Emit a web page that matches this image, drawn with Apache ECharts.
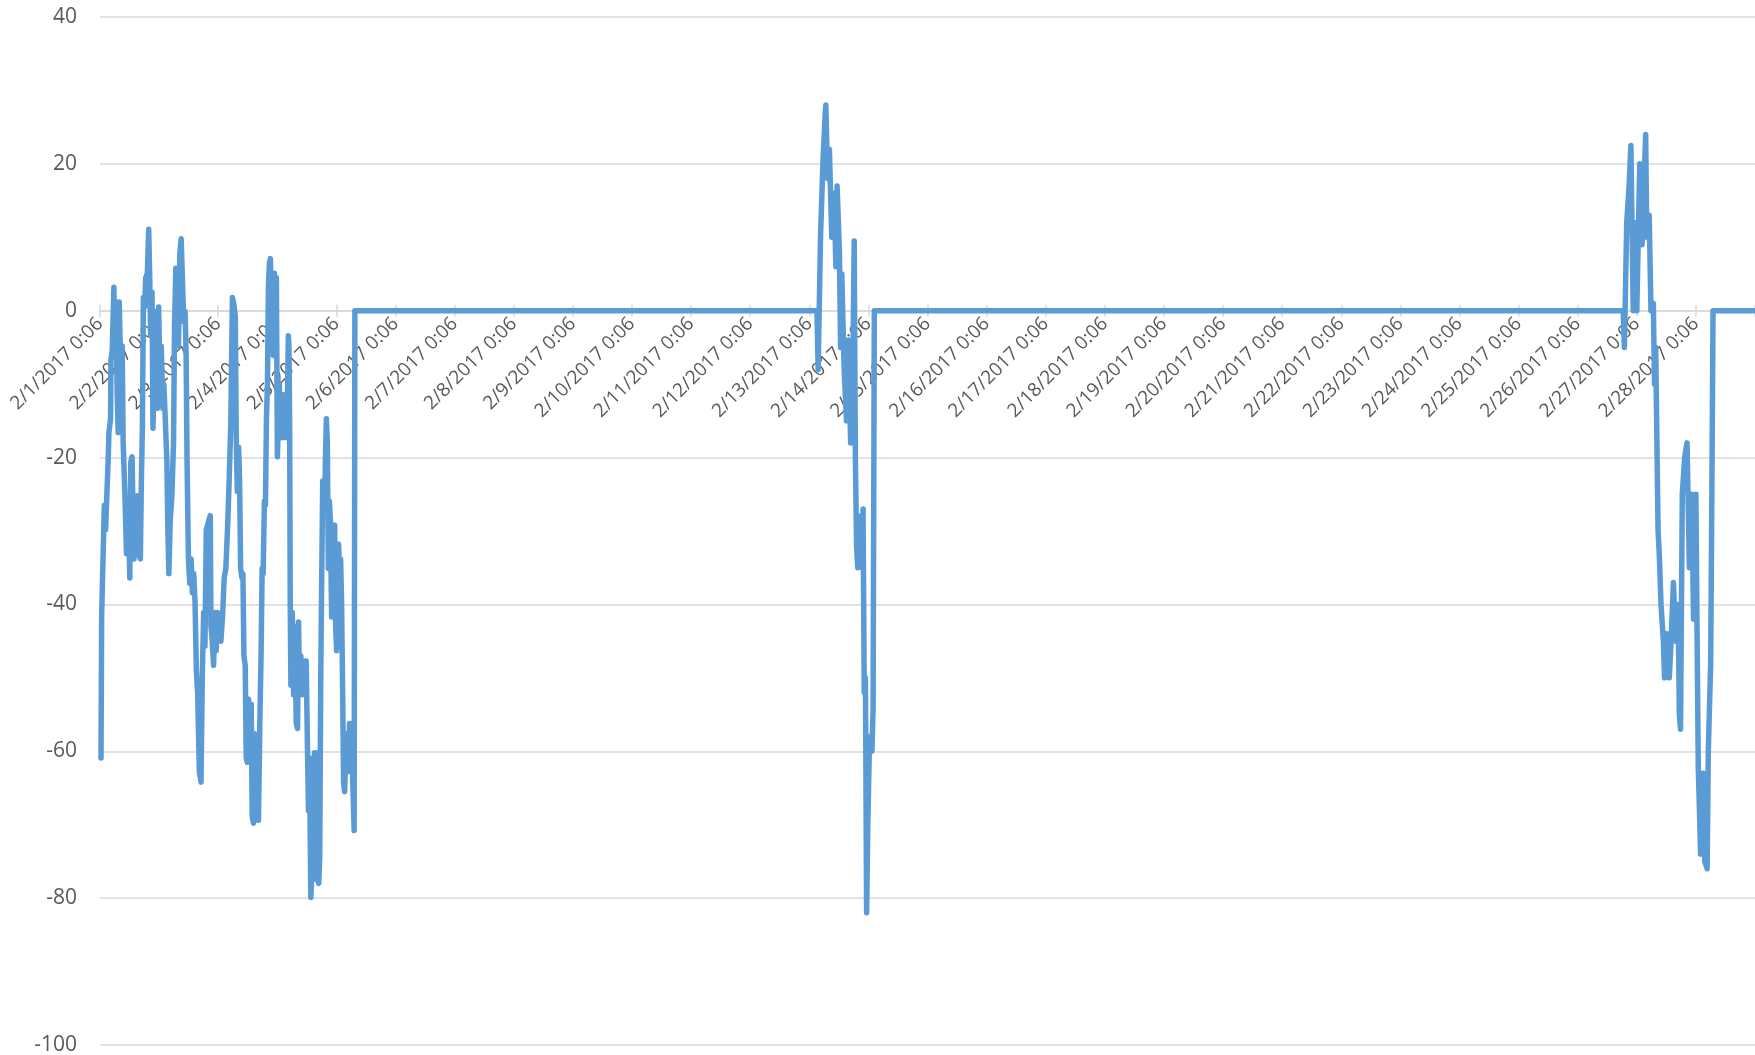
<!DOCTYPE html>
<html>
<head>
<meta charset="utf-8">
<script src="https://cdn.jsdelivr.net/npm/echarts@6/dist/echarts.min.js"></script>
<style>
html,body{margin:0;padding:0;background:#fff;}
#chart{width:1755px;height:1055px;}
</style>
</head>
<body>
<div id="chart"></div>
<script>
// Tick labels for each day (x = days since 2/1/2017 0:06)
const dayLabels = ["2/1/2017 0:06","2/2/2017 0:06","2/3/2017 0:06","2/4/2017 0:06","2/5/2017 0:06","2/6/2017 0:06","2/7/2017 0:06","2/8/2017 0:06","2/9/2017 0:06","2/10/2017 0:06","2/11/2017 0:06","2/12/2017 0:06","2/13/2017 0:06","2/14/2017 0:06","2/15/2017 0:06","2/16/2017 0:06","2/17/2017 0:06","2/18/2017 0:06","2/19/2017 0:06","2/20/2017 0:06","2/21/2017 0:06","2/22/2017 0:06","2/23/2017 0:06","2/24/2017 0:06","2/25/2017 0:06","2/26/2017 0:06","2/27/2017 0:06","2/28/2017 0:06"];
const yTicks = [-100,-80,-60,-40,-20,0,20,40];

// Burst 1: 2/1 – 2/5 ([day offset, value])
const burst1 = [
[0.017,-60.9],[0.028,-41.7],[0.039,-37.8],[0.073,-26.5],[0.095,-29.8],[0.112,-25.9],[0.140,-19.9],[0.151,-16.6],[0.179,-14.7],[0.185,-6.7],[0.207,-5.4],[0.235,3.2],[0.252,-5.4],[0.269,1.2],[0.291,-11.4],[0.308,-16.6],[0.325,1.2],[0.342,-4.8],[0.364,-13.3],[0.375,-4.8],[0.392,-18.0],[0.420,-24.6],[0.448,-33.1],[0.476,-25.9],[0.504,-36.4],[0.521,-20.6],[0.543,-19.9],[0.560,-28.5],[0.577,-33.8],[0.599,-25.9],[0.633,-25.2],[0.655,-33.1],[0.683,-33.8],[0.700,-23.2],[0.717,-16.0],[0.734,1.8],[0.756,0.5],[0.773,4.5],[0.801,5.1],[0.824,11.1],[0.840,5.1],[0.857,-3.4],[0.880,2.5],[0.896,-16.0],[0.924,-7.4],[0.952,-0.1],[0.969,-13.3],[0.992,0.5],[1.014,-8.7],[1.036,-4.8],[1.064,-13.3],[1.081,-10.0],[1.104,-14.7],[1.132,-20.6],[1.148,-29.8],[1.165,-35.8],[1.188,-28.5],[1.216,-25.2],[1.244,-18.0],[1.261,-2.1],[1.283,5.8],[1.305,5.1],[1.328,-4.8],[1.350,7.8],[1.373,9.8],[1.401,9.8],[1.417,-1.5],[1.440,-0.1],[1.457,-6.1],[1.473,-20.6],[1.496,-33.8],[1.518,-37.1],[1.541,-33.8],[1.563,-38.4],[1.585,-35.8],[1.608,-39.7],[1.630,-49.0],[1.653,-52.3],[1.681,-62.8],[1.709,-64.2],[1.731,-49.6],[1.754,-41.1],[1.776,-45.7],[1.798,-29.8],[1.821,-29.2],[1.843,-28.5],[1.866,-27.9],[1.877,-43.0],[1.894,-44.4],[1.922,-48.3],[1.944,-41.1],[1.966,-46.3],[1.989,-41.1],[2.011,-44.4],[2.045,-45.0],[2.073,-41.7],[2.101,-36.4],[2.129,-35.1],[2.157,-29.8],[2.185,-23.2],[2.213,-15.3],[2.240,1.8],[2.262,1.0],[2.289,-0.8],[2.306,-18.0],[2.323,-24.6],[2.345,-18.6],[2.362,-23.2],[2.379,-35.1],[2.401,-36.4],[2.418,-35.8],[2.435,-47.0],[2.457,-48.3],[2.474,-60.9],[2.491,-61.5],[2.513,-52.9],[2.536,-61.5],[2.558,-53.6],[2.575,-68.8],[2.597,-69.8],[2.614,-57.6],[2.637,-69.4],[2.659,-58.2],[2.681,-69.4],[2.704,-56.2],[2.726,-46.3],[2.743,-35.1],[2.760,-35.8],[2.782,-25.9],[2.799,-26.5],[2.816,-14.7],[2.833,-10.0],[2.849,3.2],[2.866,6.5],[2.883,7.1],[2.900,-0.8],[2.917,4.5],[2.933,-6.1],[2.950,5.1],[2.967,-2.1],[2.984,4.5],[3.001,-19.9],[3.017,-19.9],[3.034,-10.0],[3.051,-17.3],[3.074,-11.4],[3.096,-17.3],[3.118,-12.7],[3.141,-11.4],[3.163,-17.3],[3.186,-3.4],[3.197,-4.8],[3.208,-14.7],[3.219,-40.4],[3.230,-51.0],[3.253,-41.1],[3.275,-52.3],[3.298,-43.0],[3.320,-56.2],[3.342,-56.9],[3.359,-42.4],[3.376,-51.6],[3.398,-47.0],[3.421,-52.3],[3.443,-47.7],[3.466,-52.3],[3.488,-47.7],[3.510,-59.5],[3.527,-68.1],[3.544,-60.9],[3.567,-79.9],[3.589,-79.9],[3.611,-71.4],[3.628,-60.2],[3.645,-77.4],[3.662,-60.2],[3.678,-77.4],[3.701,-78.0],[3.718,-74.1],[3.735,-49.6],[3.751,-36.4],[3.768,-23.2],[3.785,-25.2],[3.802,-27.2],[3.813,-20.6],[3.830,-14.7],[3.846,-18.0],[3.863,-35.1],[3.880,-25.9],[3.897,-28.5],[3.919,-41.7],[3.936,-41.7],[3.953,-33.8],[3.970,-29.2],[3.987,-43.0],[4.003,-46.3],[4.020,-32.5],[4.037,-31.8],[4.054,-36.4],[4.071,-33.8],[4.087,-39.7],[4.104,-51.0],[4.121,-64.2],[4.138,-65.5],[4.155,-61.5],[4.171,-57.6],[4.188,-62.8],[4.205,-61.5],[4.222,-56.2],[4.239,-62.2],[4.255,-56.2],[4.272,-62.8],[4.300,-70.8],[4.312,0]
];

// Burst 2: 2/13 – 2/14
const burst2 = [
[12.13,0],[12.15,-8],[12.19,10],[12.23,20],[12.27,27],[12.28,28],[12.31,18],[12.34,22],[12.38,10],[12.42,16],[12.45,6],[12.47,17],[12.51,8],[12.53,-5],[12.55,5],[12.59,-8],[12.63,-15],[12.66,-4],[12.70,-18],[12.74,-5],[12.76,9.5],[12.78,-20],[12.80,-32],[12.82,-35],[12.85,-28],[12.89,-35],[12.91,-27],[12.93,-52],[12.95,-50],[12.97,-82],[12.99,-70],[13.00,-66],[13.02,-58],[13.06,-60],[13.08,-54],[13.10,0]
];

// Burst 3: 2/26 – 2/28
const burst3 = [
[25.77,0],[25.79,-5],[25.83,12],[25.87,17],[25.90,22.5],[25.94,0],[25.96,12],[26.00,0],[26.05,20],[26.09,9],[26.15,24],[26.17,10],[26.21,13],[26.24,0],[26.28,1],[26.30,-10],[26.32,-5],[26.36,-30],[26.38,-33],[26.41,-40],[26.45,-45],[26.47,-50],[26.51,-44],[26.55,-50],[26.58,-45],[26.62,-37],[26.66,-45],[26.70,-40],[26.72,-55],[26.74,-57],[26.77,-25],[26.81,-20],[26.85,-18],[26.89,-35],[26.93,-25],[26.96,-42],[27.00,-25],[27.02,-44],[27.04,-62],[27.08,-74],[27.12,-63],[27.15,-75],[27.19,-76],[27.21,-60],[27.25,-48],[27.27,-25],[27.29,0]
];
const tailEnd = [[28,0]];

const seriesData = burst1.concat(burst2, burst3, tailEnd);

const chart = echarts.init(document.getElementById('chart'), null, {renderer:'canvas'});
const labelColor = '#595959';
const gridColor = '#D9D9D9';
const fontFam = '"Open Sans", "Noto Sans", sans-serif';

function xAxes(offset){
  return [{
    type:'value', min:0, max:28, interval:1, position:'bottom', offset:offset,
    axisLine:{show:true, onZero:false, lineStyle:{color:gridColor, width:1.5}},
    axisTick:{show:true, length:6, lineStyle:{color:gridColor, width:1.5}},
    splitLine:{show:false},
    axisLabel:{
      show:true, rotate:45, margin:10, color:labelColor, fontSize:19, fontFamily:fontFam,
      formatter:function(v){ const i=Math.round(v); return dayLabels[i] !== undefined ? dayLabels[i] : ''; }
    }
  },{
    type:'value', min:0, max:28, interval:1, position:'bottom', offset:offset,
    axisLine:{show:false, onZero:false},
    axisTick:{show:true, inside:true, length:6, lineStyle:{color:gridColor, width:1.5}},
    axisLabel:{show:false}, splitLine:{show:false}
  }];
}

chart.setOption({
  animation:false,
  backgroundColor:'#ffffff',
  grid:{left:100, right:0, top:17, bottom:10, containLabel:false, outerBoundsMode:'none'},
  xAxis:xAxes(0),
  yAxis:{
    type:'value', min:yTicks[0], max:yTicks[yTicks.length-1], interval:20,
    axisLine:{show:false, onZero:false}, axisTick:{show:false},
    splitLine:{show:true, lineStyle:{color:gridColor, width:1.5}},
    axisLabel:{color:labelColor, fontSize:21, fontFamily:fontFam, margin:23}
  },
  series:[{
    type:'line', xAxisIndex:0, data:seriesData, showSymbol:false, symbol:'none',
    lineStyle:{color:'#5B9BD5', width:5.5, join:'round', cap:'round'},
    zlevel:1, z:5
  }]
});

// place the date axis on the y = 0 line (crossing point), using the library's own scale
const zeroY = chart.convertToPixel({yAxisIndex:0}, 0);
const bottomY = chart.convertToPixel({yAxisIndex:0}, yTicks[0]);
chart.setOption({xAxis:xAxes(zeroY - bottomY)});
</script>
</body>
</html>
